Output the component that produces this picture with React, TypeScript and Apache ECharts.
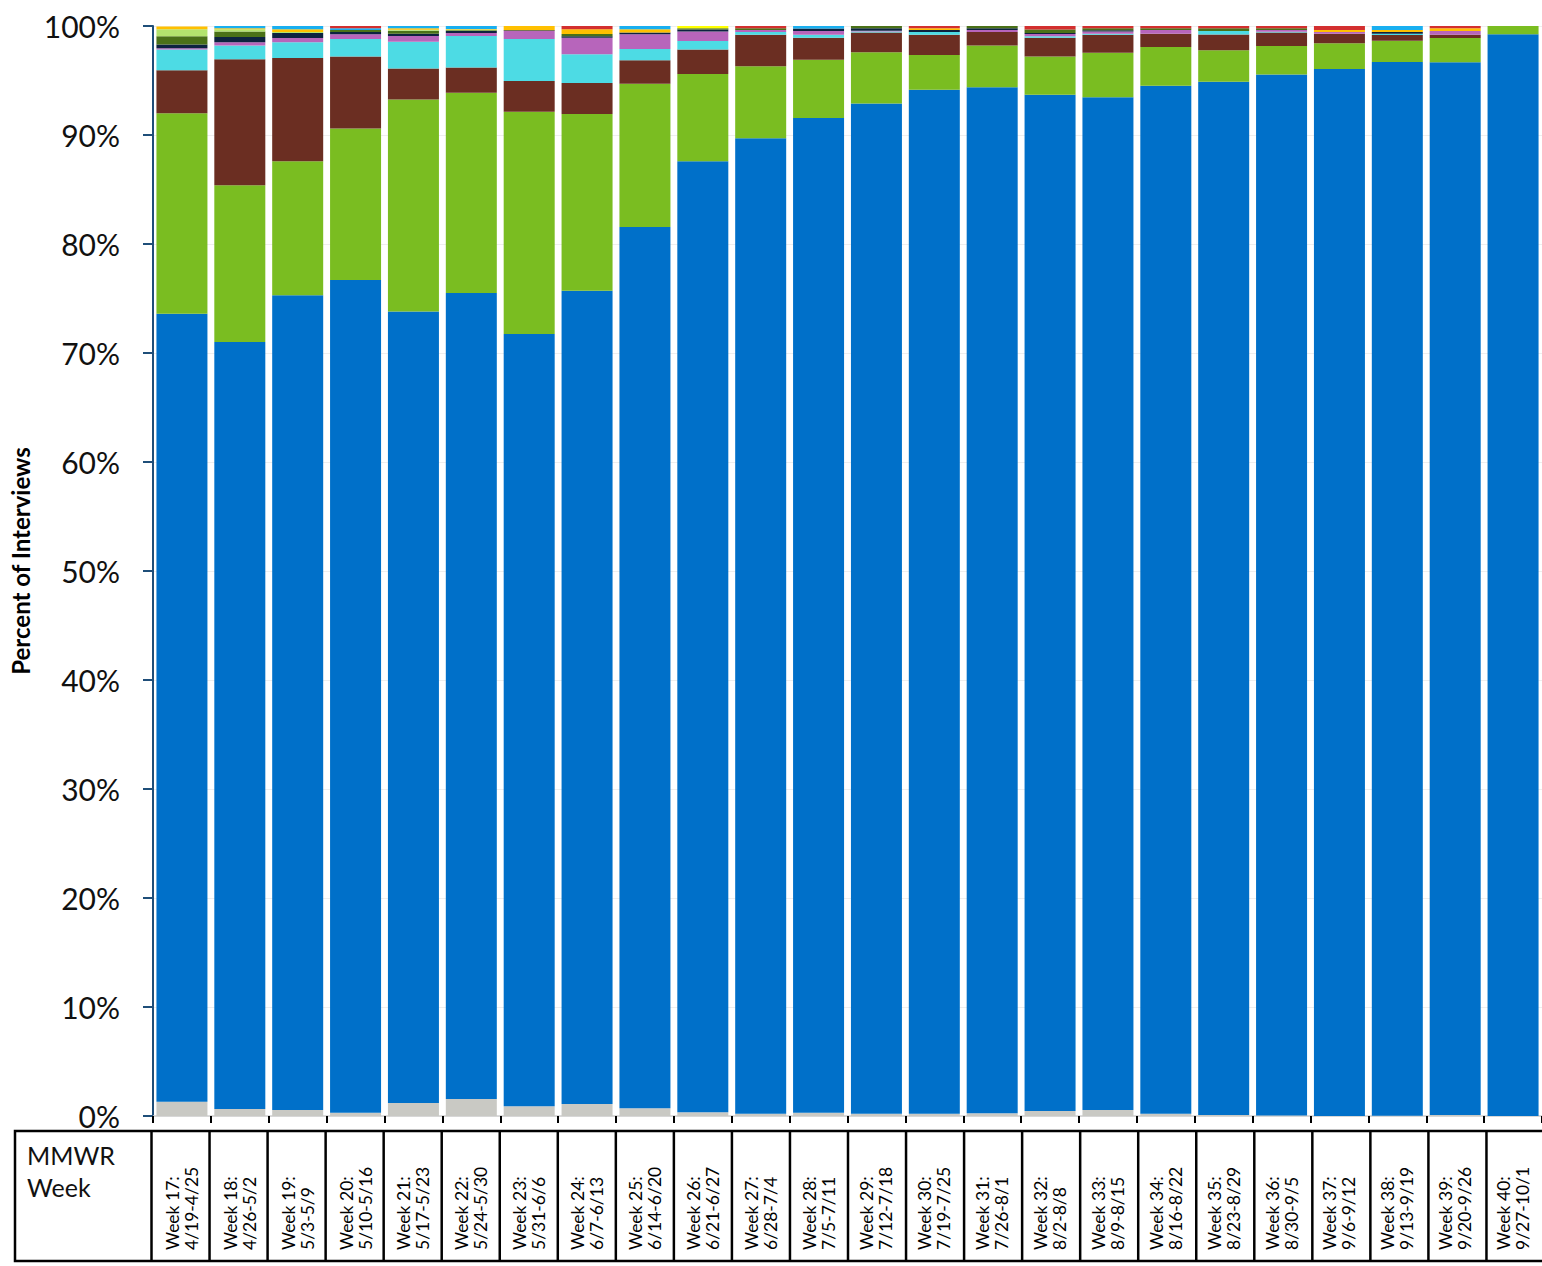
import React, { useEffect, useRef } from "react";
import * as echarts from "echarts";

const weeks = [
  "Week 17:\n4/19-4/25", "Week 18:\n4/26-5/2", "Week 19:\n5/3-5/9", "Week 20:\n5/10-5/16",
  "Week 21:\n5/17-5/23", "Week 22:\n5/24-5/30", "Week 23:\n5/31-6/6", "Week 24:\n6/7-6/13",
  "Week 25:\n6/14-6/20", "Week 26:\n6/21-6/27", "Week 27:\n6/28-7/4", "Week 28:\n7/5-7/11",
  "Week 29:\n7/12-7/18", "Week 30:\n7/19-7/25", "Week 31:\n7/26-8/1", "Week 32:\n8/2-8/8",
  "Week 33:\n8/9-8/15", "Week 34:\n8/16-8/22", "Week 35:\n8/23-8/29", "Week 36:\n8/30-9/5",
  "Week 37:\n9/6-9/12", "Week 38:\n9/13-9/19", "Week 39:\n9/20-9/26", "Week 40:\n9/27-10/1",
];

const otherGrey = [1.3, 0.65, 0.55, 0.3, 1.2, 1.55, 0.9, 1.1, 0.7, 0.35, 0.2, 0.3, 0.2, 0.2, 0.25, 0.45, 0.55, 0.2, 0.1, 0.05, 0, 0.03, 0.1, 0];
const blueGroup = [72.3, 70.35, 74.75, 76.4, 72.6, 73.95, 70.85, 74.6, 80.86, 87.25, 89.5, 91.26, 92.7, 93.96, 94.12, 93.25, 92.91, 94.32, 94.79, 95.49, 96.06, 96.67, 96.57, 99.24];
const greenGroup = [18.4, 14.4, 12.3, 13.9, 19.45, 18.38, 20.39, 16.23, 13.14, 8.0, 6.6, 5.34, 4.7, 3.18, 3.83, 3.5, 4.09, 3.55, 2.88, 2.63, 2.35, 1.95, 2.23, 0.76];
const brownGroup = [3.95, 11.55, 9.46, 6.6, 2.85, 2.32, 2.81, 2.84, 2.15, 2.25, 2.9, 2.03, 1.8, 1.86, 1.25, 1.73, 1.65, 1.23, 1.46, 1.23, 0.89, 0.52, 0.3, 0];
const cyanGroup = [1.9, 1.25, 1.44, 1.6, 2.46, 2.88, 3.85, 2.63, 1.05, 0.77, 0.25, 0.27, 0.1, 0.25, 0, 0.12, 0.1, 0, 0.31, 0.08, 0, 0.13, 0, 0];
const purpleGroup = [0.1, 0.3, 0.4, 0.45, 0.52, 0.28, 0.74, 1.53, 1.35, 0.88, 0.18, 0.34, 0.07, 0, 0.18, 0.21, 0.2, 0.33, 0, 0.15, 0.15, 0, 0.34, 0];
const navyGroup = [0.35, 0.5, 0.45, 0.2, 0.22, 0.18, 0.06, 0.12, 0.15, 0.17, 0, 0.23, 0.23, 0.18, 0.17, 0.1, 0.1, 0, 0, 0, 0, 0.15, 0, 0];
const darkGreenGroup = [0.75, 0.5, 0, 0.18, 0.27, 0.08, 0, 0.21, 0, 0.13, 0.17, 0, 0.2, 0, 0.2, 0.31, 0.2, 0.17, 0.26, 0.17, 0, 0, 0, 0];
const lightGreenGroup = [0.65, 0.2, 0.1, 0, 0.08, 0.05, 0, 0, 0, 0, 0, 0, 0, 0, 0, 0, 0, 0, 0, 0, 0, 0, 0, 0];
const orangeGroup = [0.25, 0.1, 0.25, 0, 0.15, 0.05, 0.4, 0.44, 0.3, 0, 0, 0, 0, 0.17, 0, 0, 0, 0, 0, 0, 0.18, 0.18, 0.26, 0];
const skyGroup = [0, 0.2, 0.3, 0.17, 0.2, 0.28, 0, 0, 0.3, 0, 0, 0.23, 0, 0, 0, 0, 0, 0, 0, 0, 0, 0.37, 0, 0];
const redGroup = [0, 0, 0, 0.2, 0, 0, 0, 0.3, 0, 0, 0.2, 0, 0, 0.2, 0, 0.33, 0.2, 0.2, 0.2, 0.2, 0.37, 0, 0.2, 0];
const yellowGroup = [0, 0, 0, 0, 0, 0, 0, 0, 0, 0.2, 0, 0, 0, 0, 0, 0, 0, 0, 0, 0, 0, 0, 0, 0];

const yTicks = [0, 10, 20, 30, 40, 50, 60, 70, 80, 90, 100];

const seriesDefs = [
  { name: "Other", data: otherGrey, color: "#c9c9c4" },
  { name: "Group 1", data: blueGroup, color: "#0070c9" },
  { name: "Group 2", data: greenGroup, color: "#7abd21" },
  { name: "Group 3", data: brownGroup, color: "#6b2e22" },
  { name: "Group 4", data: cyanGroup, color: "#4ddbe4" },
  { name: "Group 5", data: purpleGroup, color: "#b765bb" },
  { name: "Group 6", data: navyGroup, color: "#0c2340" },
  { name: "Group 7", data: darkGreenGroup, color: "#4a7118" },
  { name: "Group 8", data: lightGreenGroup, color: "#b3e36e" },
  { name: "Group 9", data: orangeGroup, color: "#ffc000" },
  { name: "Group 10", data: skyGroup, color: "#19aff0" },
  { name: "Group 11", data: redGroup, color: "#d32f2f" },
  { name: "Group 12", data: yellowGroup, color: "#ffff00" },
];

const GRID_LEFT = 153;
const GRID_TOP = 26;
const GRID_WIDTH = 1393;
const GRID_HEIGHT = 1090;
const TABLE_TOP = 1131;
const TABLE_BOTTOM = 1261;
const FONT = "Lato, 'Noto Sans', sans-serif";

export default function App() {
  const ref = useRef<HTMLDivElement>(null);

  useEffect(() => {
    if (!ref.current) return;
    const chart = echarts.init(ref.current, undefined, { renderer: "svg" });
    const catW = GRID_WIDTH / weeks.length;

    const graphics: any[] = [
      {
        type: "rect",
        shape: { x: 15, y: TABLE_TOP, width: 1560, height: TABLE_BOTTOM - TABLE_TOP },
        style: { fill: "none", stroke: "#000", lineWidth: 2.5 },
        silent: true,
      },
      {
        type: "text",
        x: 27,
        y: 1139,
        style: {
          text: "MMWR\nWeek",
          fontSize: 25,
          lineHeight: 32,
          fontFamily: FONT,
          fill: "#111",
        },
        silent: true,
      },
    ];
    for (let i = 0; i <= weeks.length; i++) {
      const x = GRID_LEFT + i * catW - 1.5;
      graphics.push({
        type: "line",
        shape: { x1: x, y1: TABLE_TOP, x2: x, y2: TABLE_BOTTOM },
        style: { stroke: "#000", lineWidth: 2.5 },
        silent: true,
      });
    }

    chart.setOption({
      animation: false,
      backgroundColor: "#fff",
      grid: { left: GRID_LEFT, top: GRID_TOP, width: GRID_WIDTH, height: GRID_HEIGHT, containLabel: false },
      xAxis: {
        type: "category",
        data: weeks,
        axisLine: { show: true, lineStyle: { color: "#cfcfcf", width: 1.5 } },
        axisTick: { show: true, length: 7, lineStyle: { color: "#000", width: 2 } },
        axisLabel: {
          interval: 0,
          rotate: 90,
          align: "left",
          verticalAlign: "middle",
          margin: 134,
          fontSize: 17.5,
          lineHeight: 19,
          color: "#000",
          fontFamily: FONT,
        },
        splitLine: { show: false },
      },
      yAxis: {
        type: "value",
        min: 0,
        max: 100,
        interval: 10,
        name: "Percent of Interviews",
        nameLocation: "middle",
        nameGap: 116,
        nameTextStyle: { fontSize: 24, fontWeight: "bold", color: "#000", fontFamily: FONT, padding: [0, 0, 0, 20] },
        axisLine: { show: true, lineStyle: { color: "#1f4e79", width: 2 } },
        axisTick: { show: true, length: 10, lineStyle: { color: "#1f4e79", width: 2 } },
        axisLabel: {
          formatter: (v: number) => (yTicks.includes(v) ? `${v}%` : ""),
          fontSize: 30,
          color: "#111",
          margin: 33,
          fontFamily: FONT,
        },
        splitLine: { show: true, lineStyle: { color: "#eeeeee", width: 1 } },
      },
      series: seriesDefs.map((s) => ({
        name: s.name,
        type: "bar",
        stack: "total",
        data: s.data,
        barWidth: 51,
        itemStyle: { color: s.color },
        emphasis: { disabled: true },
      })),
      graphic: graphics,
    });

    return () => chart.dispose();
  }, []);

  return (
    <div
      ref={ref}
      style={{ position: "fixed", left: 0, top: 0, width: 1542, height: 1266, background: "#fff" }}
    />
  );
}
